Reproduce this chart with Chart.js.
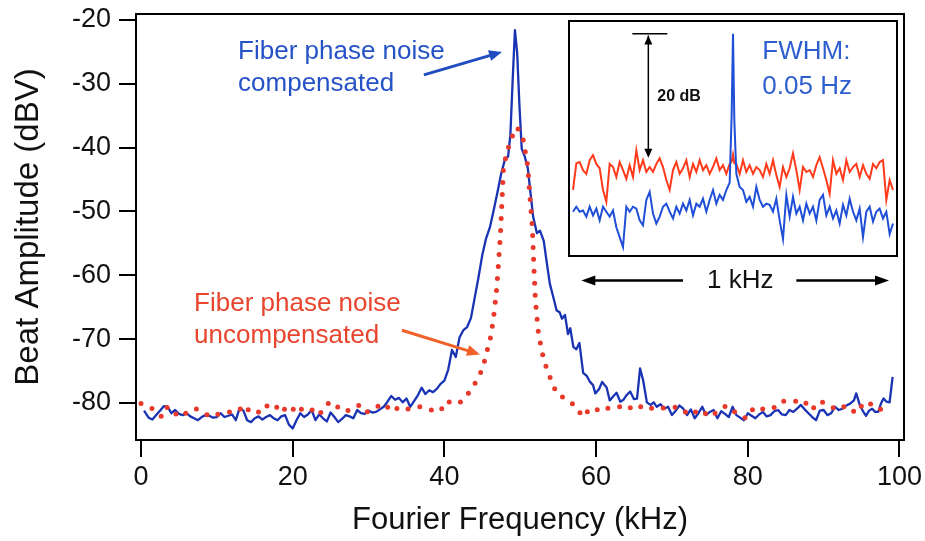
<!DOCTYPE html>
<html>
<head>
<meta charset="utf-8">
<title>Beat amplitude</title>
<script src="https://cdn.jsdelivr.net/npm/chart.js@4.4.1/dist/chart.umd.min.js"></script>
<style>
  body { margin: 0; background: #fff; }
  #wrap { position: relative; width: 925px; height: 541px; }
  #beat { position: absolute; left: 0; top: 0; }
  #inset { position: absolute; left: 568px; top: 20px; }
</style>
</head>
<body>
<div id="wrap">
  <canvas id="beat" width="925" height="541"></canvas>
  <canvas id="inset" width="330" height="285"></canvas>
</div>
<script>
/* main plot: beat amplitude (dBV) vs Fourier frequency (kHz) */

const xTicks = [0, 20, 40, 60, 80, 100];
const yTicks = [-80, -70, -60, -50, -40, -30, -20];

const blueFreq = [
    0.4, 1.0, 1.5, 2.0, 2.5, 3.0, 3.5, 4.0, 4.5, 5.0,
    5.5, 6.0, 6.5, 7.0, 7.5, 8.0, 8.5, 9.0, 9.5, 10.0,
    10.5, 11.0, 11.5, 12.0, 12.5, 13.0, 13.5, 14.0, 14.5, 15.0,
    15.5, 16.0, 16.5, 17.0, 17.5, 18.0, 18.5, 19.0, 19.5, 20.0,
    20.5, 21.0, 21.5, 22.0, 22.5, 23.0, 23.5, 24.0, 24.5, 25.0,
    25.5, 26.0, 26.5, 27.0, 27.5, 28.0, 28.5, 29.0, 29.5, 30.0,
    30.5, 31.0, 31.5, 32.0, 32.5, 33.0, 33.5, 34.0, 34.5, 35.0,
    35.5, 36.0, 36.5, 37.0, 37.5, 38.0, 38.5, 39.0, 39.5, 40.0,
    40.5, 41.0, 41.5, 42.0, 42.5, 43.0, 43.5, 44.0, 44.5, 45.0,
    45.5, 46.0, 46.5, 47.0, 47.5, 48.0, 48.4, 48.7, 49.0, 49.3,
    49.6, 49.9, 50.2, 50.6, 51.0, 51.3, 51.7, 52.2, 52.6, 53.1,
    53.5, 53.9, 54.4, 54.8, 55.2, 55.5, 55.9, 56.3, 56.6, 57.0,
    57.4, 57.8, 58.3, 58.8, 59.2, 59.6, 59.9, 60.4, 60.8, 61.4,
    61.8, 62.3, 62.7, 63.2, 63.6, 64.0, 64.5, 65.0, 65.4, 65.8,
    66.2, 66.7, 67.2, 67.6, 68.0, 68.5, 69.0, 69.5, 70.0, 70.5,
    71.0, 71.5, 72.0, 72.5, 73.0, 73.5, 74.0, 74.5, 75.0, 75.5,
    76.0, 76.5, 77.0, 77.5, 78.0, 78.5, 79.0, 79.5, 80.0, 80.5,
    81.0, 81.5, 82.0, 82.5, 83.0, 83.5, 84.0, 84.5, 85.0, 85.5,
    86.0, 86.5, 87.0, 87.5, 88.0, 88.5, 89.0, 89.5, 90.0, 90.5,
    91.0, 91.5, 92.0, 92.5, 93.0, 93.5, 94.0, 94.3, 94.8, 95.2,
    95.6, 96.0, 96.4, 96.8, 97.2, 97.6, 97.9, 98.3, 98.7, 99.1
];
const blueAmp = [
    -81.2, -82.3, -82.6, -81.9, -81.2, -80.5, -80.6, -81.6, -81.1, -81.7,
    -81.9, -81.6, -82.1, -82.4, -82.7, -82.2, -81.9, -82.0, -82.3, -82.2,
    -81.6, -82.2, -82.0, -81.8, -82.7, -80.8, -81.2, -82.7, -83.0, -82.4,
    -82.1, -82.6, -82.2, -81.9, -82.4, -82.7, -82.1, -81.9, -83.4, -84.0,
    -82.7, -81.6, -82.2, -81.8, -81.1, -82.7, -81.8, -82.4, -82.9, -81.5,
    -82.2, -83.0, -82.5, -81.9, -82.1, -82.4, -81.1, -81.6, -81.7, -81.2,
    -81.5, -81.4, -81.0, -80.6, -79.8, -78.9, -79.5, -79.2, -79.9, -79.3,
    -80.6, -79.7, -78.8, -77.6, -78.6, -78.0, -78.3, -77.8, -77.0, -76.5,
    -74.8, -71.7, -72.8, -69.7, -68.6, -68.1, -66.7, -63.5, -60.3, -56.8,
    -54.2, -52.5, -49.8, -47.0, -44.0, -41.8, -41.4, -38.0, -29.5, -21.6,
    -25.2, -33.5, -40.2, -41.4, -43.2, -46.5, -50.8, -53.4, -53.0, -54.6,
    -58.0, -61.3, -63.6, -65.5, -65.8, -66.8, -66.2, -69.2, -68.3, -71.2,
    -71.6, -70.6, -75.3, -75.8, -76.7, -77.2, -78.5, -77.8, -76.7, -77.6,
    -79.6, -78.9, -78.4, -79.8, -79.5, -78.8, -78.2, -79.4, -79.3, -74.6,
    -76.4, -79.9, -80.3, -79.9, -80.6, -80.2, -80.9, -80.6, -81.9, -81.2,
    -80.4, -80.9, -81.9, -81.0, -82.4, -81.6, -80.6, -81.9, -81.4, -81.1,
    -82.4, -81.3, -81.7, -82.2, -80.6, -81.9, -82.3, -82.7, -81.6, -82.0,
    -82.4, -81.8, -81.4, -82.1, -81.9, -81.3, -81.1, -81.8, -81.9, -81.1,
    -81.4, -80.9, -80.3, -81.0, -81.6, -82.2, -82.7, -81.2, -81.1, -81.9,
    -81.6, -80.6, -81.1, -80.9, -80.4, -80.1, -79.6, -78.5, -80.4, -81.3,
    -82.0, -81.2, -80.9, -81.4, -81.4, -80.0, -79.3, -79.8, -79.9, -75.9
];

const redFreq = [
    0.0, 1.5, 2.8, 3.5, 4.4, 5.3, 6.4, 7.2, 8.1, 9.2,
    10.5, 11.6, 12.7, 13.6, 14.5, 15.6, 16.4, 17.5, 18.4, 19.3,
    20.0, 20.6, 21.5, 22.6, 23.5, 24.3, 25.2, 25.9, 27.0, 28.1,
    29.0, 29.8, 31.0, 32.2, 32.9, 34.2, 35.0, 36.0, 36.8, 38.2,
    39.5, 40.1, 41.0, 41.9, 43.0, 43.5, 44.1, 44.7, 45.2, 45.5,
    45.8, 46.2, 46.6, 46.9, 47.1, 47.4, 47.6, 47.8, 48.3, 48.9,
    49.6, 50.4, 51.0, 51.3, 51.6, 51.8, 52.0, 52.4, 53.1, 53.9,
    54.8, 55.5, 56.2, 57.0, 57.5, 58.2, 59.0, 59.8, 60.5, 61.8,
    63.1, 64.0, 65.3, 66.6, 67.9, 69.3, 70.8, 72.4, 73.7, 75.0,
    76.3, 77.2, 78.5, 79.8, 80.9, 82.5, 83.8, 84.6, 86.0, 87.3,
    88.4, 89.5, 90.8, 91.7, 93.0, 94.3, 95.4, 96.1, 97.4, 98.3
];
const redAmp = [
    -80.1, -80.9, -82.2, -80.6, -81.6, -82.2, -81.1, -80.9, -81.4, -82.2,
    -81.6, -81.4, -81.4, -80.3, -81.6, -81.4, -80.3, -81.1, -80.1, -81.6,
    -81.1, -80.3, -81.4, -81.1, -81.9, -80.3, -79.8, -80.6, -81.4, -80.6,
    -80.3, -81.4, -80.6, -80.1, -81.3, -80.6, -81.0, -80.8, -80.6, -81.1,
    -81.3, -79.8, -79.9, -80.1, -78.8, -77.8, -76.8, -75.5, -73.9, -72.3,
    -71.2, -69.1, -65.5, -62.0, -58.7, -53.4, -48.2, -43.0, -40.5, -38.3,
    -36.8, -38.8, -43.0, -48.0, -52.5, -58.7, -63.9, -69.1, -73.3, -75.9,
    -78.5, -79.0, -79.6, -80.2, -80.8, -82.2, -81.2, -81.5, -80.6, -80.9,
    -80.6, -81.1, -80.2, -81.1, -80.6, -80.9, -80.6, -81.9, -81.0, -82.2,
    -81.1, -80.4, -81.6, -82.4, -80.6, -81.1, -80.6, -79.7, -79.8, -79.5,
    -81.1, -79.7, -80.4, -81.1, -80.4, -81.6, -79.8, -80.1, -81.1, -80.1
];

/* inset: offset from the carrier (Hz) vs relative level (dB) */

const insetHz = [
    -480, -470, -460, -450, -440, -430, -420, -410, -400, -390,
    -380, -370, -360, -350, -340, -330, -320, -310, -300, -290,
    -280, -270, -260, -250, -240, -230, -220, -210, -200, -190,
    -180, -170, -160, -150, -140, -130, -120, -110, -100, -90,
    -80, -70, -60, -50, -40, -30, -20, -10,
    -4, 0, 4,
    10, 20, 30, 40, 50, 60, 70, 80, 90, 100,
    110, 120, 130, 140, 150, 160, 170, 180, 190, 200,
    210, 220, 230, 240, 250, 260, 270, 280, 290, 300,
    310, 320, 330, 340, 350, 360, 370, 380, 390, 400,
    410, 420, 430, 440, 450, 460, 470, 480
];
const insetRed = [
    -25.2, -20.9, -20.7, -22.0, -22.6, -20.4, -19.6, -21.0, -21.7, -25.2,
    -27.1, -21.0, -21.5, -23.1, -20.7, -22.0, -23.4, -21.2, -23.1, -18.8,
    -22.0, -20.4, -22.3, -21.5, -22.3, -21.0, -20.1, -21.5, -23.6, -25.2,
    -22.0, -20.7, -22.6, -21.7, -20.4, -23.1, -21.0, -22.3, -20.4, -22.0,
    -21.2, -22.6, -21.5, -20.1, -22.0, -21.2, -22.6, -21.0,
    -20.6, -19.5, -20.9,
    -21.0, -22.6, -20.4, -22.3, -21.2, -22.6, -21.5, -22.0, -23.1, -21.0,
    -22.6, -20.4, -22.8, -24.7, -21.5, -23.1, -21.7, -19.3, -22.0, -25.2,
    -21.5, -22.3, -22.0, -23.1, -21.2, -19.9, -21.7, -23.6, -25.8, -20.4,
    -22.6, -21.7, -23.6, -20.4, -22.3, -21.5, -21.0, -23.1, -21.2, -22.6,
    -23.4, -21.0, -21.7, -20.7, -20.4, -26.8, -23.6, -25.2
];
const insetBlue = [
    -28.7, -27.9, -28.7, -28.5, -29.5, -27.9, -29.3, -28.2, -30.1, -27.9,
    -28.7, -29.5, -28.5, -31.2, -32.8, -34.4, -27.9, -28.7, -27.9, -28.2,
    -30.1, -30.9, -26.8, -25.5, -29.0, -30.6, -29.5, -27.9, -27.4, -28.7,
    -29.8, -27.9, -29.0, -27.4, -28.5, -26.8, -29.3, -27.4, -27.9, -26.6,
    -28.7, -26.8, -25.2, -27.4, -26.0, -26.8, -25.2, -24.0,
    -13.0, 0.0, -14.0,
    -22.6, -24.7, -25.2, -27.1, -26.3, -27.9, -24.7, -26.8, -27.9, -27.4,
    -27.6, -28.7, -26.6, -30.1, -33.1, -26.0, -29.5, -26.3, -29.0, -27.9,
    -30.1, -27.4, -29.0, -27.9, -30.1, -26.8, -26.0, -29.3, -27.9, -29.8,
    -28.5, -30.6, -27.6, -29.3, -26.6, -28.7, -30.1, -28.2, -32.8, -28.7,
    -27.9, -30.3, -28.7, -28.2, -29.8, -28.7, -32.3, -30.6
];

const FONT = "'Liberation Sans', Arial, Helvetica, sans-serif";
const BLUE_TEXT = '#2553c6';
const RED_TEXT = '#e8452e';

Chart.defaults.font.family = FONT;
Chart.defaults.color = '#111';

function pairs(xs, ys) {
    return xs.map(function (x, i) { return { x: x, y: ys[i] }; });
}

function arrow(ctx, x1, y1, x2, y2, opt) {
    var ang = Math.atan2(y2 - y1, x2 - x1);
    var len = opt.head || 12, half = opt.half || 5;
    ctx.save();
    ctx.strokeStyle = opt.color;
    ctx.fillStyle = opt.color;
    ctx.lineWidth = opt.width || 2;
    ctx.beginPath();
    ctx.moveTo(x1, y1);
    ctx.lineTo(x2 - Math.cos(ang) * len * 0.8, y2 - Math.sin(ang) * len * 0.8);
    ctx.stroke();
    var heads = opt.both ? [[x2, y2, ang], [x1, y1, ang + Math.PI]] : [[x2, y2, ang]];
    heads.forEach(function (h) {
        ctx.beginPath();
        ctx.moveTo(h[0], h[1]);
        ctx.lineTo(h[0] - Math.cos(h[2]) * len + Math.sin(h[2]) * half, h[1] - Math.sin(h[2]) * len - Math.cos(h[2]) * half);
        ctx.lineTo(h[0] - Math.cos(h[2]) * len - Math.sin(h[2]) * half, h[1] - Math.sin(h[2]) * len + Math.cos(h[2]) * half);
        ctx.closePath();
        ctx.fill();
    });
    ctx.restore();
}

function label(ctx, text, x, y, font, color, align) {
    ctx.save();
    ctx.font = font;
    ctx.fillStyle = color;
    ctx.textAlign = align || 'left';
    ctx.textBaseline = 'middle';
    ctx.fillText(text, x, y);
    ctx.restore();
}

/* annotations, placed in data units */

const mainLabels = [
    { text: 'Fiber phase noise', f: 12.8, db: -25.0, color: BLUE_TEXT },
    { text: 'compensated', f: 12.8, db: -30.0, color: BLUE_TEXT },
    { text: 'Fiber phase noise', f: 7.0, db: -64.5, color: RED_TEXT },
    { text: 'uncompensated', f: 7.0, db: -69.5, color: RED_TEXT }
];
const mainArrows = [
    { from: [37.3, -28.6], to: [47.6, -25.0], color: '#1f4cc0' },
    { from: [34.4, -68.6], to: [44.7, -72.4], color: '#f0622a' }
];

const framePlugin = {
    id: 'frame',
    afterDraw: function (chart) {
        var a = chart.chartArea, ctx = chart.ctx;
        ctx.save();
        ctx.strokeStyle = '#000';
        ctx.lineWidth = 2;
        ctx.strokeRect(a.left, a.top, a.right - a.left, a.bottom - a.top);
        ctx.restore();
    }
};

const mainNotesPlugin = {
    id: 'mainNotes',
    afterDatasetsDraw: function (chart) {
        var ctx = chart.ctx, sx = chart.scales.x, sy = chart.scales.y;
        mainLabels.forEach(function (l) {
            label(ctx, l.text, sx.getPixelForValue(l.f), sy.getPixelForValue(l.db), '26px ' + FONT, l.color);
        });
        mainArrows.forEach(function (a) {
            arrow(ctx, sx.getPixelForValue(a.from[0]), sy.getPixelForValue(a.from[1]),
                sx.getPixelForValue(a.to[0]), sy.getPixelForValue(a.to[1]),
                { color: a.color, width: 3, head: 13, half: 5.5 });
        });
    }
};

function axisGrid() {
    return { drawOnChartArea: false, color: '#000', lineWidth: 2, tickLength: 17 };
}

new Chart(document.getElementById('beat'), {
    type: 'line',
    data: {
        datasets: [{
            label: 'uncompensated',
            data: pairs(redFreq, redAmp),
            borderColor: '#e8392a',
            borderWidth: 5,
            borderDash: [0, 12],
            borderCapStyle: 'round',
            pointRadius: 0,
            tension: 0
        }, {
            label: 'compensated',
            data: pairs(blueFreq, blueAmp),
            borderColor: '#1a33b3',
            borderWidth: 2.3,
            borderJoinStyle: 'round',
            pointRadius: 0,
            tension: 0
        }]
    },
    options: {
        responsive: false,
        animation: false,
        events: [],
        layout: { padding: { top: 14, right: 21, left: 0, bottom: 0 } },
        plugins: { legend: { display: false }, tooltip: { enabled: false } },
        scales: {
            x: {
                type: 'linear',
                min: -0.66,
                max: 100.6,
                afterBuildTicks: function (s) { s.ticks = xTicks.map(function (v) { return { value: v }; }); },
                afterFit: function (s) { s.height = 101; s.paddingLeft = 0; s.paddingRight = 0; },
                grid: axisGrid(),
                border: { display: false },
                ticks: { font: { size: 27 }, color: '#111', padding: 4, maxRotation: 0 },
                title: { display: true, text: 'Fourier Frequency (kHz)', font: { size: 31 }, color: '#111', padding: { top: 0, bottom: 2 } }
            },
            y: {
                min: -85.8,
                max: -19.06,
                afterBuildTicks: function (s) { s.ticks = yTicks.map(function (v) { return { value: v }; }); },
                afterFit: function (s) { s.width = 136; s.paddingTop = 0; s.paddingBottom = 0; },
                grid: axisGrid(),
                border: { display: false },
                ticks: { font: { size: 27 }, color: '#111', padding: 8 },
                title: { display: true, text: 'Beat Amplitude (dBV)', font: { size: 33 }, color: '#111', padding: { top: 9, bottom: 0 } }
            }
        }
    },
    plugins: [framePlugin, mainNotesPlugin]
});

/* inset chart */

const insetNotesPlugin = {
    id: 'insetNotes',
    beforeDraw: function (chart) {
        var a = chart.chartArea, ctx = chart.ctx;
        ctx.save();
        ctx.fillStyle = '#fff';
        ctx.fillRect(a.left, a.top, a.right - a.left, a.bottom - a.top);
        ctx.restore();
    },
    afterDraw: function (chart) {
        var a = chart.chartArea, ctx = chart.ctx, sx = chart.scales.x, sy = chart.scales.y;
        ctx.save();
        ctx.strokeStyle = '#000';
        ctx.lineWidth = 2;
        ctx.strokeRect(a.left + 1, a.top + 1, a.right - a.left - 2, a.bottom - a.top - 2);
        // 20 dB marker
        ctx.lineWidth = 1.5;
        ctx.beginPath();
        ctx.moveTo(sx.getPixelForValue(-302), sy.getPixelForValue(0));
        ctx.lineTo(sx.getPixelForValue(-197), sy.getPixelForValue(0));
        ctx.stroke();
        ctx.restore();
        arrow(ctx, sx.getPixelForValue(-254), sy.getPixelForValue(-0.3), sx.getPixelForValue(-254), sy.getPixelForValue(-20),
            { color: '#000', width: 1.5, head: 9, half: 4, both: true });
        label(ctx, '20 dB', sx.getPixelForValue(-227), sy.getPixelForValue(-10.1), 'bold 16px ' + FONT, '#111');
        label(ctx, 'FWHM:', sx.getPixelForValue(88), sy.getPixelForValue(-3.0), '26px ' + FONT, '#2f5fcf');
        label(ctx, '0.05 Hz', sx.getPixelForValue(88), sy.getPixelForValue(-8.6), '26px ' + FONT, '#2f5fcf');
        // 1 kHz span below the box
        var yk = sy.getPixelForValue(-39.8);
        label(ctx, '1 kHz', sx.getPixelForValue(22), yk, '26px ' + FONT, '#111', 'center');
        arrow(ctx, sx.getPixelForValue(-150), yk, sx.getPixelForValue(-455), yk, { color: '#000', width: 2.5, head: 14, half: 5 });
        arrow(ctx, sx.getPixelForValue(190), yk, sx.getPixelForValue(468), yk, { color: '#000', width: 2.5, head: 14, half: 5 });
    }
};

new Chart(document.getElementById('inset'), {
    type: 'line',
    data: {
        datasets: [{
            data: pairs(insetHz, insetBlue),
            borderColor: '#1f4fd6',
            borderWidth: 2,
            pointRadius: 0,
            tension: 0
        }, {
            data: pairs(insetHz, insetRed),
            borderColor: '#ff3b1c',
            borderWidth: 2,
            pointRadius: 0,
            tension: 0
        }]
    },
    options: {
        responsive: false,
        animation: false,
        events: [],
        layout: { padding: { top: 0, left: 0, right: 0, bottom: 48 } },
        plugins: { legend: { display: false }, tooltip: { enabled: false } },
        scales: {
            x: { type: 'linear', display: false, min: -495, max: 495 },
            y: { display: false, min: -36, max: 2.2 }
        }
    },
    plugins: [insetNotesPlugin]
});
</script>
</body>
</html>
